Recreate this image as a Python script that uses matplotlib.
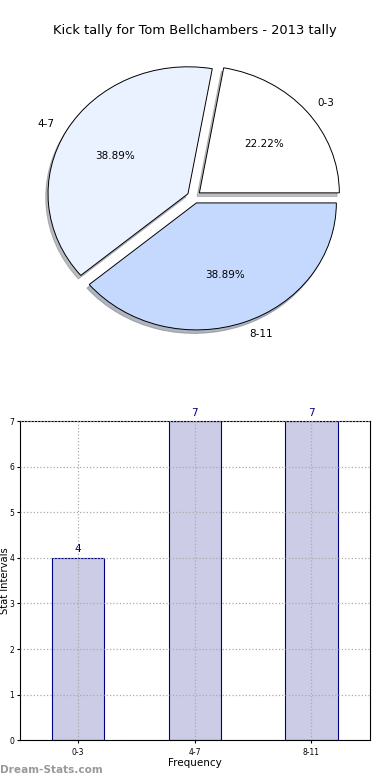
import matplotlib
matplotlib.use("Agg")
import matplotlib.pyplot as plt

title = "Kick tally for Tom Bellchambers - 2013 tally"
categories = ["0-3", "4-7", "8-11"]
counts = [4, 7, 7]
pie_colors = ["#ffffff", "#eaf1ff", "#c5d9ff"]

fig = plt.figure(figsize=(3.9, 7.8), dpi=100)

# pie on top
ax1 = fig.add_axes([0.049, 0.544, 0.897, 0.407])
ax1.pie(counts, labels=categories, colors=pie_colors, autopct="%1.2f%%",
        startangle=0, explode=[0.05] * 3,
        shadow={"ox": -0.012, "oy": -0.02, "shade": 0.5},
        wedgeprops={"edgecolor": "black", "linewidth": 0.7},
        textprops={"fontsize": 7.5})
ax1.set_aspect("auto")
ax1.set_xlim(-1.25, 1.25)
ax1.set_ylim(-1.25, 1.25)
ax1.axis("off")
fig.text(0.5, 0.961, title, ha="center", va="center", fontsize=9.4)

# bars below, grid drawn over them like the original
ax2 = fig.add_axes([0.051, 0.051, 0.897, 0.409])
x = range(len(categories))
bars = ax2.bar(x, counts, width=0.45, color="#ccccE6", edgecolor="#000080",
               linewidth=0.8, zorder=1)
for b, v in zip(bars, counts):
    ax2.text(b.get_x() + b.get_width() / 2, v + 0.08, str(v), ha="center",
             va="bottom", fontsize=7.5, color="#000080")
ax2.set_xlim(-0.5, 2.5)
ax2.set_ylim(0, 7)
ax2.set_xticks(list(x))
ax2.set_xticklabels(categories)
ax2.set_yticks(range(8))
ax2.tick_params(labelsize=5.5, length=2)
ax2.tick_params(axis="y", pad=2)
ax2.set_axisbelow(False)
ax2.grid(True, linestyle=":", color="#aaaaaa", linewidth=0.9)
ax2.set_xlabel("Frequency", fontsize=7.5, labelpad=1)
fig.text(0.0, 0.255, "Stat Intervals", fontsize=7.2, rotation=90,
         ha="left", va="center")

fig.text(0.0, 0.007, "Dream-Stats.com", fontsize=7.6, color="#999999",
         fontweight="bold", ha="left", va="bottom")

fig.savefig("out.png", dpi=100)
